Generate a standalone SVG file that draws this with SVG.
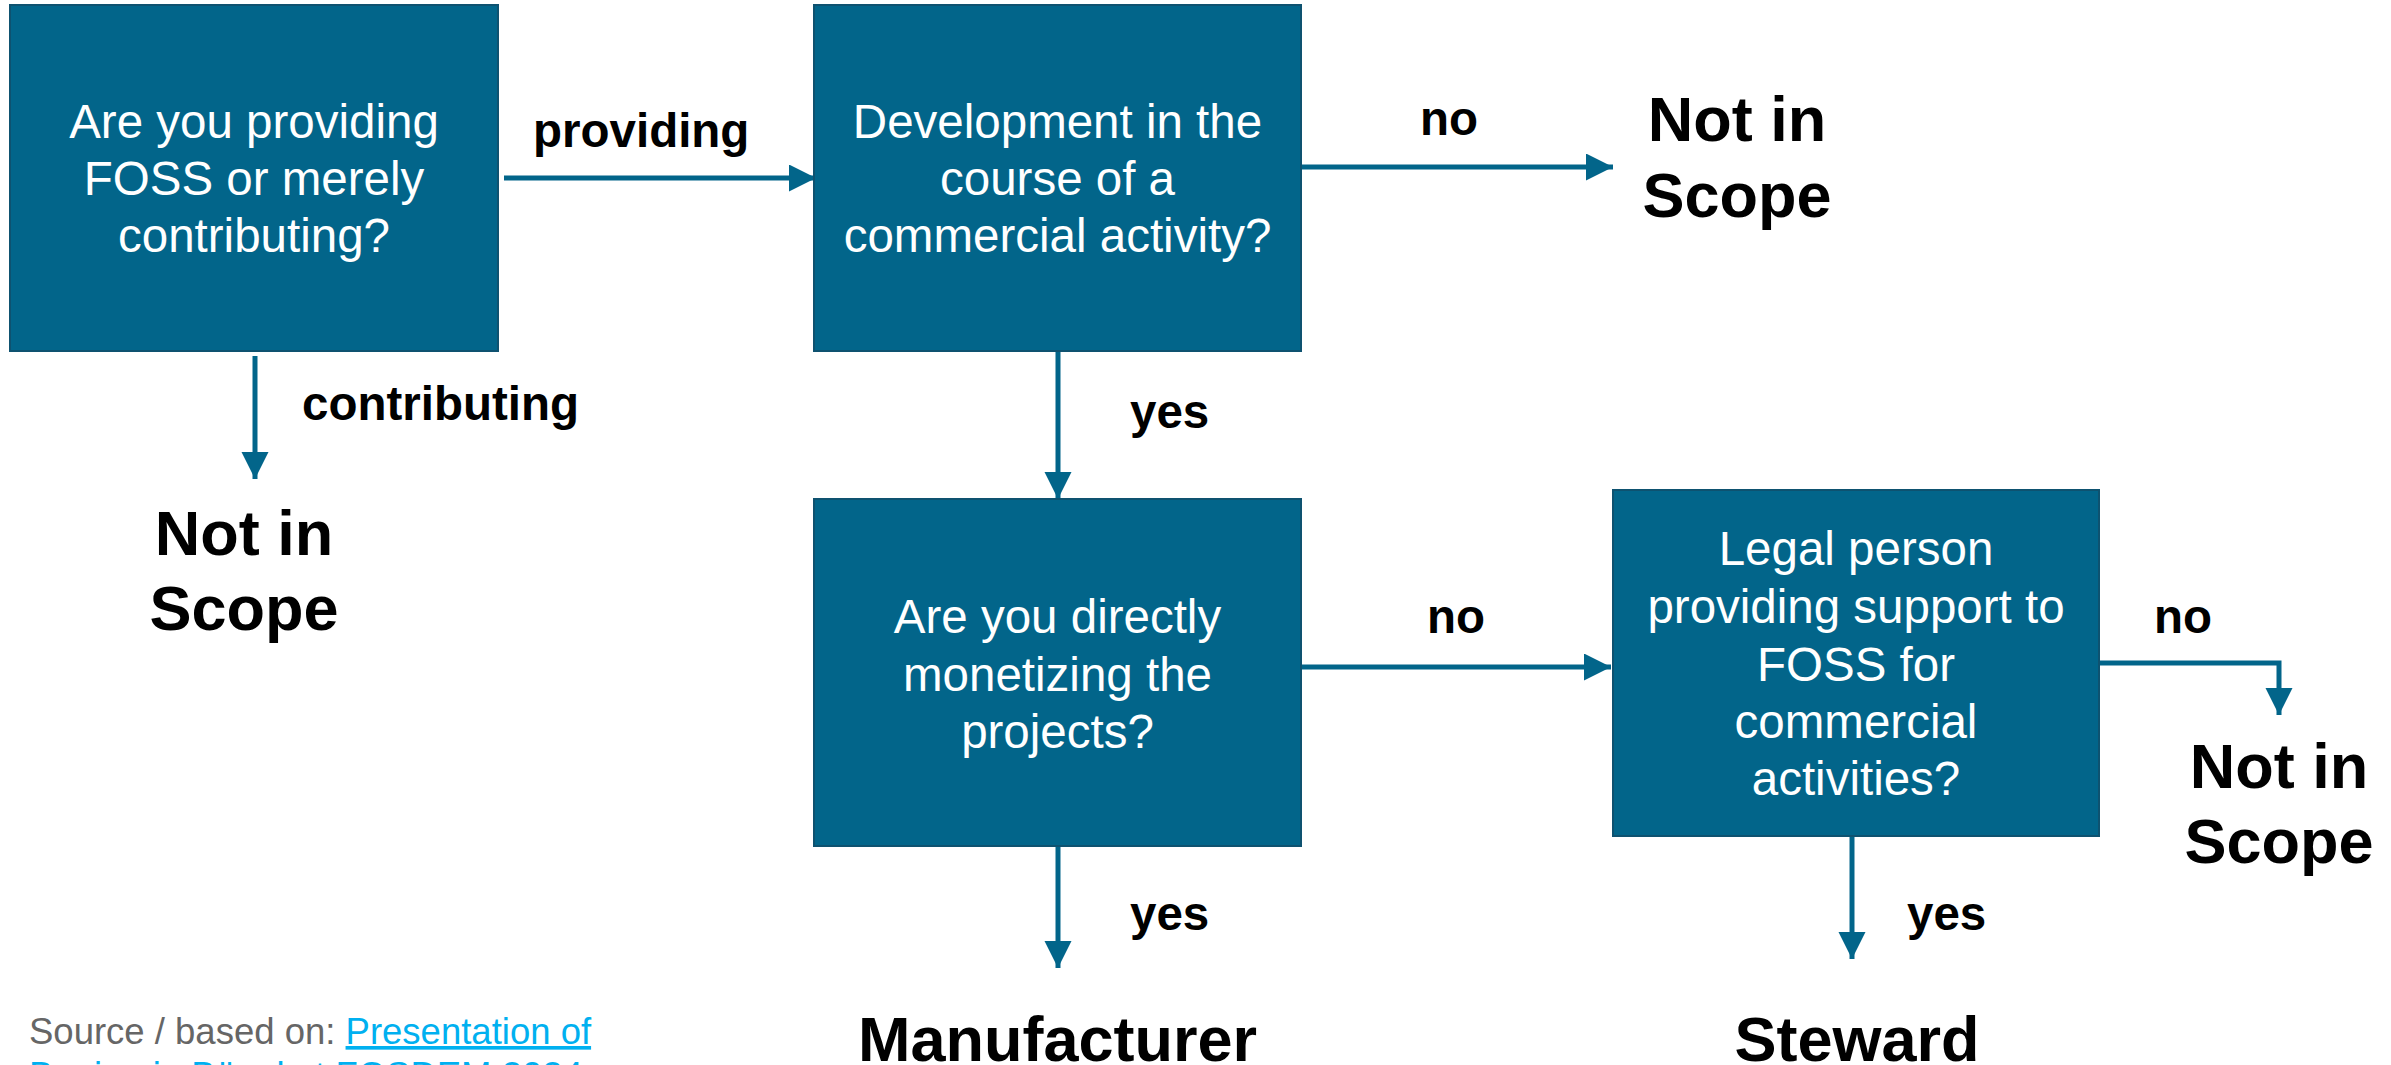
<svg xmlns="http://www.w3.org/2000/svg" width="2391" height="1065" viewBox="0 0 2391 1065">
<defs>
<style>
.box{fill:#02658a;stroke:#0e5270;stroke-width:2}
.bt{font-family:"Liberation Sans",Arial,sans-serif;font-size:47.5px;fill:#ffffff;text-anchor:middle}
.lbl{font-family:"Liberation Sans",Arial,sans-serif;font-size:47.5px;font-weight:bold;fill:#000000}
.big{font-family:"Liberation Sans",Arial,sans-serif;font-size:63px;font-weight:bold;fill:#000000;text-anchor:middle}
.con{fill:none;stroke:#02658a;stroke-width:5;marker-end:url(#ah)}
.src{font-family:"Liberation Sans",Arial,sans-serif;font-size:36.5px;fill:#666666}
.lnk{fill:#00b0f0;text-decoration:underline}
</style>
<marker id="ah" markerUnits="userSpaceOnUse" markerWidth="28" markerHeight="28" refX="27" refY="13.5" orient="auto">
<path d="M0,0 L27,13.5 L0,27 z" fill="#02658a"/>
</marker>
</defs>
<rect width="2391" height="1065" fill="#ffffff"/>
<g id="connectors">
<path class="con" d="M504,178 H816"/>
<path class="con" d="M255,356 V479"/>
<path class="con" d="M1302,167 H1613"/>
<path class="con" d="M1058,352 V499"/>
<path class="con" d="M1302,667 H1611"/>
<path class="con" d="M1058,847 V968"/>
<path class="con" d="M2100,663 H2279 V715"/>
<path class="con" d="M1852,837 V959"/>
<text class="lbl" x="533" y="147">providing</text>
<text class="lbl" x="302" y="420">contributing</text>
<text class="lbl" x="1420" y="135">no</text>
<text class="lbl" x="1130" y="428">yes</text>
<text class="lbl" x="1427" y="633">no</text>
<text class="lbl" x="1130" y="930">yes</text>
<text class="lbl" x="2154" y="633">no</text>
<text class="lbl" x="1907" y="930">yes</text>
</g>
<g id="q1">
<rect class="box" x="10" y="5" width="488" height="346"/>
<text class="bt" x="254" y="138">Are you providing</text>
<text class="bt" x="254" y="195">FOSS or merely</text>
<text class="bt" x="254" y="252">contributing?</text>
</g>
<g id="q2">
<rect class="box" x="814" y="5" width="487" height="346"/>
<text class="bt" x="1057.5" y="138">Development in the</text>
<text class="bt" x="1057.5" y="195">course of a</text>
<text class="bt" x="1057.5" y="252">commercial activity?</text>
</g>
<g id="q3">
<rect class="box" x="814" y="499" width="487" height="347"/>
<text class="bt" x="1057.5" y="633">Are you directly</text>
<text class="bt" x="1057.5" y="691">monetizing the</text>
<text class="bt" x="1057.5" y="748">projects?</text>
</g>
<g id="q4">
<rect class="box" x="1613" y="490" width="486" height="346"/>
<text class="bt" x="1856" y="565">Legal person</text>
<text class="bt" x="1856" y="623">providing support to</text>
<text class="bt" x="1856" y="681">FOSS for</text>
<text class="bt" x="1856" y="738">commercial</text>
<text class="bt" x="1856" y="795">activities?</text>
</g>
<g id="out-left">
<text class="big" x="244" y="555">Not in</text>
<text class="big" x="244" y="630">Scope</text>
</g>
<g id="out-top">
<text class="big" x="1737" y="141">Not in</text>
<text class="big" x="1737" y="217">Scope</text>
</g>
<g id="out-right">
<text class="big" x="2279" y="788">Not in</text>
<text class="big" x="2279" y="863">Scope</text>
</g>
<g id="manufacturer">
<text class="big" x="1057.5" y="1061">Manufacturer</text>
</g>
<g id="steward">
<text class="big" x="1857" y="1061">Steward</text>
</g>
<g id="source">
<text class="src" x="29" y="1044">Source / based on: <tspan class="lnk">Presentation of</tspan></text>
<text class="src" x="29" y="1088"><tspan class="lnk">Benjamin Bögel at FOSDEM 2024</tspan></text>
</g>
</svg>
